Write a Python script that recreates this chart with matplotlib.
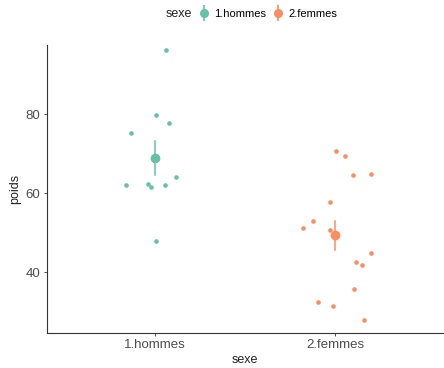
import numpy as np
import matplotlib
matplotlib.use('Agg')
import matplotlib.pyplot as plt
from matplotlib.lines import Line2D

plt.rcParams['font.family'] = ['Liberation Sans', 'DejaVu Sans']

# values
groups = ['1.hommes', '2.femmes']
poids_hommes = [96.3, 79.8, 77.8, 75.2, 64.1, 62.0, 62.3, 61.7, 62.0, 47.9]
jitter_hommes = [0.06, 0.007, 0.077, -0.13, 0.12, -0.16, -0.04, -0.02, 0.059, 0.007]
poids_femmes = [70.8, 69.5, 64.6, 65.0, 57.8, 53.1, 51.3, 50.8, 44.8, 42.7,
                41.9, 35.8, 32.5, 31.4, 27.8]
jitter_femmes = [0.005, 0.053, 0.099, 0.198, -0.026, -0.123, -0.175, -0.026,
                 0.198, 0.115, 0.150, 0.108, -0.095, -0.009, 0.159]
colors = ['#66C2A5', '#FC8D62']

fig = plt.figure(figsize=(4.44, 3.68), dpi=100)
ax = fig.add_axes([0.105, 0.095, 0.893, 0.783])

data = [(poids_hommes, jitter_hommes), (poids_femmes, jitter_femmes)]
for i, (vals, jit) in enumerate(data):
    pos = i + 1
    vals = np.array(vals)
    ax.plot(pos + np.array(jit), vals, 'o', color=colors[i], ms=3.3, mew=0)
    m = vals.mean()
    se = vals.std(ddof=1) / np.sqrt(len(vals))
    ax.plot([pos, pos], [m - se, m + se], color=colors[i], lw=1.1)
    ax.plot(pos, m, 'o', color=colors[i], ms=7, mew=0)

ax.set_xlim(0.4, 2.6)
ax.set_ylim(24.6, 97.6)
ax.set_xticks([1, 2])
ax.set_xticklabels(groups)
ax.set_yticks([40, 60, 80])
for s in ['top', 'right']:
    ax.spines[s].set_visible(False)
for s in ['left', 'bottom']:
    ax.spines[s].set_color('#333333')
    ax.spines[s].set_linewidth(0.8)
ax.tick_params(length=2.5, width=0.6, colors='#333333', labelsize=9.5,
               labelcolor='#4D4D4D', pad=2)
ax.set_xlabel('sexe', fontsize=9, color='#222222', labelpad=2)
ax.set_ylabel('poids', fontsize=9, color='#222222', labelpad=3)

# legend on top
handles = []
for c in colors:
    handles.append((Line2D([], [], marker='|', ms=12, mew=1.2, color=c, ls='none'),
                    Line2D([], [], marker='o', ms=6.5, mew=0, color=c, ls='none')))
fig.text(0.372, 0.963, 'sexe', fontsize=9, color='#222222', va='center')
fig.legend(handles, groups, ncol=2, loc='center left', bbox_to_anchor=(0.448, 0.963),
           frameon=False, fontsize=8, handlelength=0.9, handletextpad=0.5,
           columnspacing=0.6, borderpad=0, borderaxespad=0)

fig.savefig('out.png', dpi=100)
